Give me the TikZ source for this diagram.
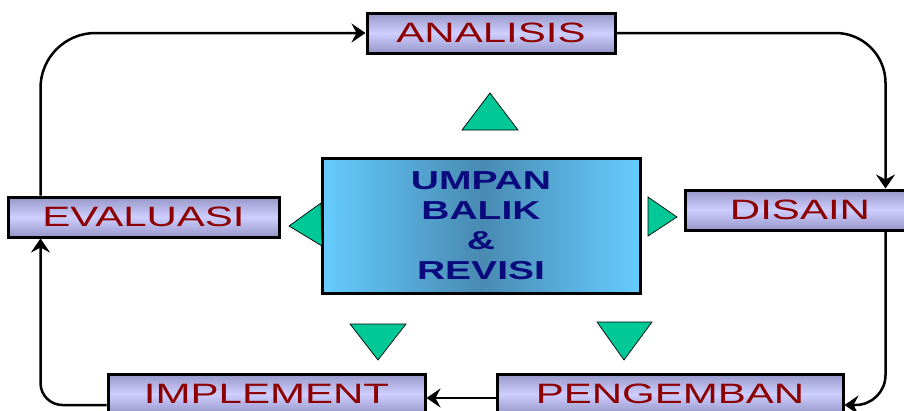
\documentclass[tikz,border=0pt]{standalone}
\usepackage{fontspec}
\setmainfont{Liberation Sans}
\newfontfamily\widefont[FakeStretch=1.5]{Liberation Sans}
\usetikzlibrary{arrows.meta}
\definecolor{stagelight}{RGB}{206,206,255}
\definecolor{stagedark}{RGB}{150,150,200}
\definecolor{stagered}{RGB}{140,0,0}
\definecolor{skyedge}{RGB}{102,204,255}
\definecolor{skymid}{RGB}{72,138,178}
\definecolor{navytext}{RGB}{10,10,125}
\definecolor{tri}{RGB}{0,200,150}
\begin{document}
\begin{tikzpicture}[x=1pt,y=-1pt,
    stage/.style={draw=black,line width=3pt,minimum height=40pt,inner sep=0pt,
        top color=stagedark,bottom color=stagedark,middle color=stagelight,
        text=stagered,font=\widefont\fontsize{28}{30}\selectfont},
    flow/.style={line width=2.5pt,-{Stealth[length=14pt,width=19pt,inset=5pt]}},
    marker/.style={fill=tri,draw=black,line width=0.7pt}]
    \clip (0,0) rectangle (904,410);
    % the cycle of stages
    \node[stage,minimum width=248pt] (ana) at (491,33) {ANALISIS};
    \node[stage,minimum width=230pt] (dis) at (800,210) {DISAIN};
    \node[stage,minimum width=346pt] (pen) at (670,394) {PENGEMBAN};
    \node[stage,minimum width=317pt] (imp) at (266.5,394) {IMPLEMENT};
    \node[stage,minimum width=271pt] (eva) at (143.5,217) {EVALUASI};
    % feedback box in the middle
    \node[draw=black,line width=3pt,minimum width=318pt,minimum height=135pt,
        left color=skyedge,right color=skyedge,middle color=skymid,
        text=navytext,align=center,
        font=\widefont\bfseries\fontsize{26}{30}\selectfont] (fb) at (481,225.5)
        {UMPAN\\BALIK\\\&\\REVISI};
    \filldraw[marker] (462,130) -- (490,93) -- (518,130) -- cycle;
    \filldraw[marker] (321,203) -- (289,226) -- (322,246) -- cycle;
    \filldraw[marker] (648,197) -- (677,217) -- (648,236) -- cycle;
    \filldraw[marker] (350,324) -- (406,324) -- (378,360) -- cycle;
    \filldraw[marker] (597,322) -- (652,322) -- (624,360) -- cycle;
    % connectors
    \draw[flow,rounded corners=55pt] ([xshift=34pt]eva.north west) |- (ana.west);
    \draw[flow,rounded corners=50pt] (ana.east) -| ([xshift=202pt]dis.north west);
    \draw[flow,rounded corners=30pt] ([xshift=202pt]dis.south west) |- ([yshift=-11pt]pen.east);
    \draw[flow] ([yshift=-4pt]pen.west) -- ([yshift=-4pt]imp.east);
    \draw[flow,rounded corners=22pt] ([yshift=-11pt]imp.west) -| ([xshift=34pt]eva.south west);
\end{tikzpicture}
\end{document}
